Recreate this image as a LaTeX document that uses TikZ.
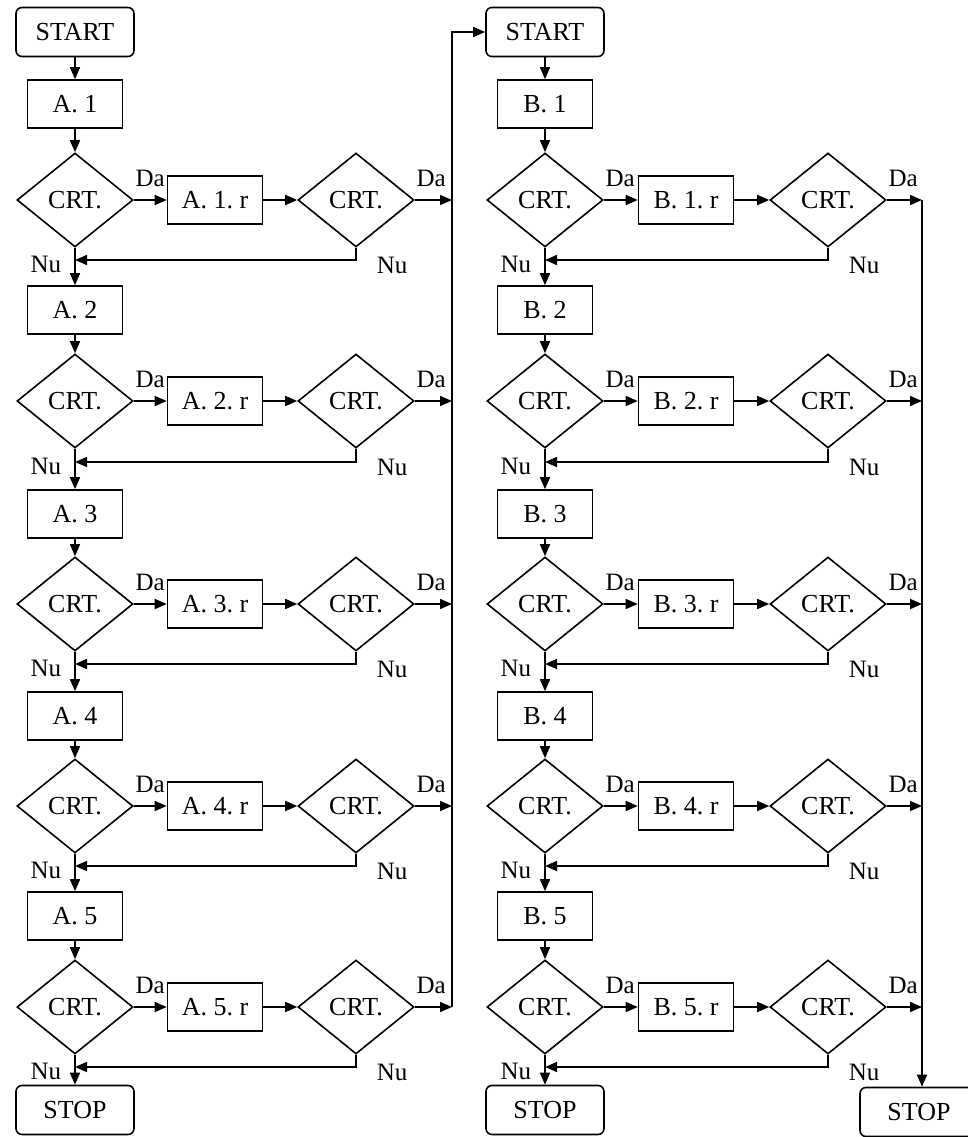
\documentclass[tikz,border=0pt]{standalone}
\usepackage{fontspec}
\setmainfont{Liberation Serif}
\usetikzlibrary{shapes.geometric,arrows.meta}
\begin{document}
\begin{tikzpicture}[x=1pt,y=-1pt,
  every node/.style={font=\fontsize{26}{30}\selectfont},
  >={Triangle[length=12pt,width=10pt]},
  line width=1.6pt,
  term/.style={draw,rounded corners=6pt,minimum width=118pt,minimum height=49pt,inner sep=0pt},
  proc/.style={draw,minimum width=95pt,minimum height=48pt,inner sep=0pt},
  dec/.style={draw,diamond,minimum width=116pt,minimum height=94pt,inner sep=0pt},
  lbl/.style={font=\fontsize{25}{28}\selectfont,inner sep=1pt}]
\useasboundingbox (0,0) rectangle (967,1137);

% terminals
\node[term] (SA) at (75,32) {START};
\node[term] (SB) at (545,32) {START};
\node[term] (TA) at (75,1110) {STOP};
\node[term] (TB) at (545,1110) {STOP};
\node[term] (TR) at (919,1112) {STOP};

\coordinate (LX) at (452,0);
\coordinate (RX) at (922,0);
\coordinate (LT) at (452,32);

\foreach \L/\cx/\rx/\ex in {A/75/215/356, B/545/686/828}{
  \foreach \k/\yb/\yd/\yn in {1/104/200/260, 2/310/401/462, 3/514/604/664, 4/716/806/866, 5/916/1007/1067}{
    \node[proc] (\L\k) at (\cx,\yb) {\L.\ \k};
    \node[dec] (\L d\k) at (\cx,\yd) {CRT.};
    \node[proc] (\L r\k) at (\rx,\yd) {\L.\ \k.\ r};
    \node[dec] (\L e\k) at (\ex,\yd) {CRT.};
    \coordinate (\L J\k) at (\cx,\yn);
    \draw[->] (\L\k) -- (\L d\k);
    \draw[->] (\L d\k.east) -- (\L r\k.west);
    \draw[->] (\L r\k.east) -- (\L e\k.west);
    \draw[->] (\L e\k.south) |- (\L J\k);
    \node[lbl,anchor=south west] at ([yshift=11pt]\L d\k.east) {Da};
    \node[lbl,anchor=south west] at ([yshift=11pt]\L e\k.east) {Da};
    \node[lbl,anchor=east] at ({\cx-12},{\yn+4}) {Nu};
    \node[lbl,anchor=west] at ({\ex+19},{\yn+5}) {Nu};
  }
}

% vertical links
\draw[->] (SA) -- (A1);
\draw[->] (SB) -- (B1);
\foreach \L in {A,B}{
  \foreach \k/\n in {1/2,2/3,3/4,4/5}{
    \draw[->] (\L d\k) -- (\L\n);
  }
}
\draw[->] (Ad5) -- (TA);
\draw[->] (Bd5) -- (TB);

% Da exits to collector lines
\foreach \k in {1,...,5}{
  \draw[->] (Ae\k.east) -- (Ae\k.east -| LX);
  \draw[->] (Be\k.east) -- (Be\k.east -| RX);
}
\draw[->] (Ae5.east -| LX) -- (LT) -- (SB.west);
\draw[->] (Be1.east -| RX) -- (RX |- TR.north);
\end{tikzpicture}
\end{document}
